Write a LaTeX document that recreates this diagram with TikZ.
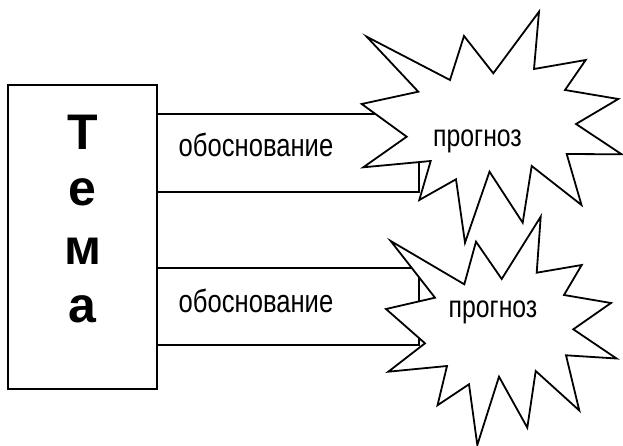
\documentclass[tikz,border=0pt]{standalone}
\usepackage{fontspec}
\setmainfont{Liberation Sans}
\newfontfamily\narrowfont[FakeStretch=0.8]{Liberation Sans}
\tikzset{
	temaletter/.style={anchor=base, font=\bfseries\fontsize{50}{50}\selectfont, inner sep=0pt},
	basislabel/.style={anchor=base, font=\narrowfont\fontsize{32}{32}\selectfont, inner sep=0pt},
	forecastlabel/.style={anchor=base, font=\narrowfont\fontsize{31}{31}\selectfont, inner sep=0pt},
	starline/.style={fill=white, line width=1.8pt, line join=miter}
}
\begin{document}
\begin{tikzpicture}[x=1pt, y=-1pt, line width=1.8pt]
		\useasboundingbox (0, 0) rectangle (623, 446); % picture size in px

		% caja del tema
		\draw (8.3, 85) rectangle (156.7, 389); % left top, right bottom
		\node[temaletter] (t1) at (82.8, 150) {Т};
		\node[temaletter] (t2) at (82.8, 206) {е};
		\node[temaletter] (t3) at (82.8, 264) {м};
		\node[temaletter] (t4) at (82.8, 322) {а};

		% canales
		\draw (156.7, 114) rectangle (419.3, 191.7); % upper channel
		\draw (156.7, 268.3) rectangle (419.3, 345); % lower channel
		\node[basislabel] (basis1) at (256, 157) {обоснование};
		\node[basislabel] (basis2) at (256, 312) {обоснование};

		% estrellas con fill
		\filldraw[starline] (366.7, 36.7) -- (450, 80) -- (464, 36) -- (493.3, 73.3) -- (539, 11.7) -- (534, 69)
			-- (585.7, 60) -- (565, 90) -- (618.3, 99) -- (576, 124) -- (621.7, 154.3) -- (566.7, 154)
			-- (581.5, 205) -- (531.7, 166) -- (522.7, 222.7) -- (489.5, 171.7) -- (465, 242.7) -- (456, 179.3)
			-- (419.3, 200) -- (430.7, 161) -- (363.3, 167.3) -- (406.7, 136.7) -- (361.7, 104) -- (418.3, 91.7) -- cycle; % upper star
		\filldraw[starline] (390.7, 241) -- (464.3, 284.3) -- (476, 241.7) -- (501.7, 279) -- (540.7, 216.7) -- (536.7, 272.7)
			-- (581.7, 265) -- (564, 295) -- (611, 303) -- (573.3, 329.3) -- (616.5, 358.5) -- (566, 355.3)
			-- (579.3, 410.5) -- (535.7, 371) -- (527.3, 427.7) -- (499, 376.7) -- (477.3, 445) -- (469, 384.3)
			-- (437.5, 405.3) -- (447, 366) -- (388.3, 371.7) -- (425, 343.3) -- (386, 309) -- (435, 297.7) -- cycle; % lower star
		\node[forecastlabel] (forecast1) at (477.5, 147) {прогноз};
		\node[forecastlabel] (forecast2) at (493, 317) {прогноз};
	\end{tikzpicture}
\end{document}
